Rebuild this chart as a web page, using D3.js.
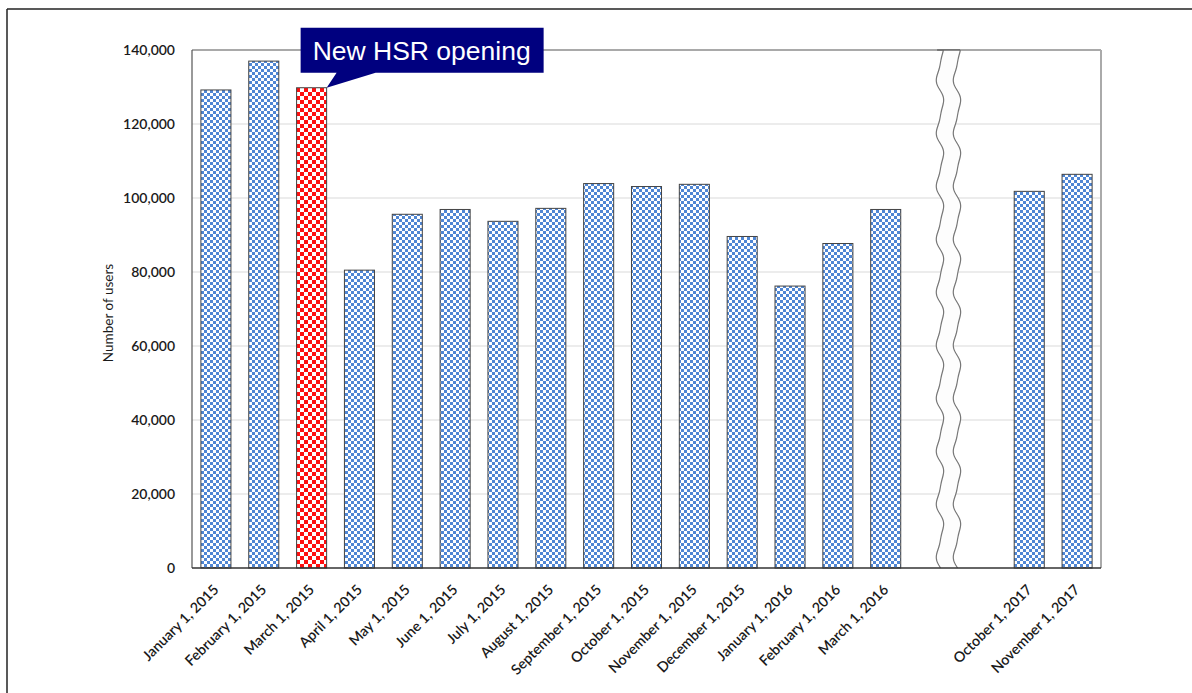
<!DOCTYPE html>
<html>
<head>
<meta charset="utf-8">
<script src="https://cdn.jsdelivr.net/npm/d3@7/dist/d3.min.js"></script>
<style>
  html, body { margin: 0; padding: 0; background: #fff; }
  svg { display: block; }
</style>
</head>
<body>
<script>
// ---- data ----
const categories = [
  "January 1, 2015", "February 1, 2015", "March 1, 2015", "April 1, 2015",
  "May 1, 2015", "June 1, 2015", "July 1, 2015", "August 1, 2015",
  "September 1, 2015", "October 1, 2015", "November 1, 2015", "December 1, 2015",
  "January 1, 2016", "February 1, 2016", "March 1, 2016",
  "gap-1", "gap-2",
  "October 1, 2017", "November 1, 2017"
];
const gapSlots = ["gap-1", "gap-2"];
const users = [
  129200, 137000, 129800, 80500,
  95600, 96900, 93700, 97200,
  103900, 103100, 103700, 89600,
  76200, 87700, 96900,
  null, null,
  101800, 106400
];
const highlighted = ["March 1, 2015"];
const yTicks = [0, 20000, 40000, 60000, 80000, 100000, 120000, 140000];
const yTitle = "Number of users";
const calloutText = "New HSR opening";

// ---- layout ----
const W = 1192, H = 693;
const plot = { left: 192, right: 1101, top: 50, bottom: 568 };

const svg = d3.select("body").append("svg").attr("width", W).attr("height", H);
const defs = svg.append("defs");

// patterns
const pb = defs.append("pattern").attr("id", "blueChk").attr("patternUnits", "userSpaceOnUse")
  .attr("width", 6).attr("height", 6);
pb.append("rect").attr("width", 6).attr("height", 6).attr("fill", "#ffffff");
pb.append("rect").attr("x", 0).attr("y", 0).attr("width", 3).attr("height", 3).attr("fill", "#4f86d4");
pb.append("rect").attr("x", 3).attr("y", 3).attr("width", 3).attr("height", 3).attr("fill", "#4f86d4");

const pr = defs.append("pattern").attr("id", "redChk").attr("patternUnits", "userSpaceOnUse")
  .attr("width", 8).attr("height", 8);
pr.append("rect").attr("width", 8).attr("height", 8).attr("fill", "#ffffff");
pr.append("rect").attr("x", 0).attr("y", 0).attr("width", 4).attr("height", 4).attr("fill", "#ff1010");
pr.append("rect").attr("x", 4).attr("y", 4).attr("width", 4).attr("height", 4).attr("fill", "#ff1010");

// outer frame (top + left lines)
svg.append("line").attr("x1", 7).attr("y1", 9).attr("x2", W).attr("y2", 9)
  .attr("stroke", "#222").attr("stroke-width", 1.5);
svg.append("line").attr("x1", 7).attr("y1", 9).attr("x2", 7).attr("y2", H)
  .attr("stroke", "#222").attr("stroke-width", 1.5);

// scales
const x = d3.scaleBand().domain(categories).range([plot.left, plot.right])
  .paddingInner(0.372).paddingOuter(0.186);
const y = d3.scaleLinear().domain([0, 140000]).range([plot.bottom, plot.top]);

// gridlines
svg.append("g").selectAll("line").data(yTicks.filter(d => d > 0)).join("line")
  .attr("x1", plot.left).attr("x2", plot.right)
  .attr("y1", d => y(d)).attr("y2", d => y(d))
  .attr("stroke", "#d9d9d9").attr("stroke-width", 1);

// plot border: top and left dark, right gray
svg.append("line").attr("x1", plot.left).attr("x2", plot.right).attr("y1", plot.top).attr("y2", plot.top)
  .attr("stroke", "#666").attr("stroke-width", 1.2);
svg.append("line").attr("x1", plot.left).attr("x2", plot.left).attr("y1", plot.top).attr("y2", plot.bottom)
  .attr("stroke", "#555").attr("stroke-width", 1.2);
svg.append("line").attr("x1", plot.right).attr("x2", plot.right).attr("y1", plot.top).attr("y2", plot.bottom)
  .attr("stroke", "#aaa").attr("stroke-width", 2);

// bars
const rows = categories.map((c, i) => ({ c, v: users[i] })).filter(d => d.v != null);
svg.append("g").selectAll("rect").data(rows).join("rect")
  .attr("x", d => x(d.c))
  .attr("width", x.bandwidth())
  .attr("y", d => y(d.v))
  .attr("height", d => y(0) - y(d.v))
  .attr("fill", d => highlighted.includes(d.c) ? "url(#redChk)" : "url(#blueChk)")
  .attr("stroke", "#444").attr("stroke-width", 1);

// axis break (wavy strip)
const bx = x(gapSlots[0]) + x.bandwidth();
const halfW = 8.5, amp = 3.3, period = 53;
const wave = py => amp * Math.sin((py - plot.top - 14) / period * 2 * Math.PI)
  + 0.9 * Math.sin((py - plot.top) / period * 4 * Math.PI);
const pts = d3.range(plot.top, plot.bottom + 0.1, 1);
const leftEdge = pts.map(py => [bx - halfW - wave(py), py]);
const rightEdge = pts.map(py => [bx + halfW - wave(py), py]).reverse();
const line = d3.line();
svg.append("path")
  .attr("d", line(leftEdge.concat(rightEdge)) + "Z")
  .attr("fill", "#fdfdfd").attr("stroke", "none");
svg.append("path").attr("d", line(leftEdge)).attr("fill", "none").attr("stroke", "#777").attr("stroke-width", 1.2);
svg.append("path").attr("d", line(rightEdge)).attr("fill", "none").attr("stroke", "#777").attr("stroke-width", 1.2);
svg.append("line").attr("x1", bx - halfW - 3).attr("x2", bx + halfW + 3).attr("y1", plot.top).attr("y2", plot.top)
  .attr("stroke", "#666").attr("stroke-width", 1.5);

// x axis line
svg.append("line").attr("x1", plot.left).attr("x2", plot.right).attr("y1", plot.bottom).attr("y2", plot.bottom)
  .attr("stroke", "#333").attr("stroke-width", 1.5);

// y axis labels
const yAxis = d3.axisLeft(y).tickValues(yTicks).tickSize(0).tickPadding(17)
  .tickFormat(d3.format(","));
const gy = svg.append("g").attr("transform", `translate(${plot.left},0)`).call(yAxis);
gy.select(".domain").remove();
gy.selectAll("text").attr("font-family", "Lato, sans-serif").attr("font-size", 14)
  .attr("fill", "#1a1a1a").attr("font-weight", 600);

// x axis labels
const xAxis = d3.axisBottom(x).tickSize(0).tickFormat(d => gapSlots.includes(d) ? "" : d);
const gx = svg.append("g").attr("transform", `translate(0,${plot.bottom})`).call(xAxis);
gx.select(".domain").remove();
gx.selectAll(".tick text")
  .attr("font-family", "Lato, sans-serif").attr("font-size", 14.3).attr("fill", "#1a1a1a")
  .attr("font-weight", 600)
  .attr("text-anchor", "end")
  .attr("x", 0).attr("y", 0).attr("dy", "0.75em")
  .attr("transform", "translate(-4,15) rotate(-45)");

// y title
svg.append("text")
  .attr("transform", `translate(113,${(plot.top + plot.bottom) / 2 + 4}) rotate(-90)`)
  .attr("text-anchor", "middle")
  .attr("font-family", "Lato, sans-serif").attr("font-size", 13.5).attr("fill", "#1a1a1a")
  .text(yTitle);

// callout
const tipX = x(highlighted[0]) + x.bandwidth();
const tipY = y(users[categories.indexOf(highlighted[0])]);
const box = { x: tipX - 26, y: tipY - 60, w: 243, h: 45 };
const navy = "#00007f";
svg.append("path")
  .attr("d", d3.line()([
    [box.x, box.y], [box.x + box.w, box.y], [box.x + box.w, box.y + box.h],
    [box.x + 75, box.y + box.h], [tipX, tipY], [box.x + 36, box.y + box.h],
    [box.x, box.y + box.h]
  ]) + "Z")
  .attr("fill", navy);
svg.append("text")
  .attr("x", box.x + 12).attr("y", box.y + 32)
  .attr("font-family", "'Liberation Sans', Arial, sans-serif").attr("font-size", 26.5)
  .attr("fill", "#ffffff")
  .text(calloutText);
</script>
</body>
</html>
